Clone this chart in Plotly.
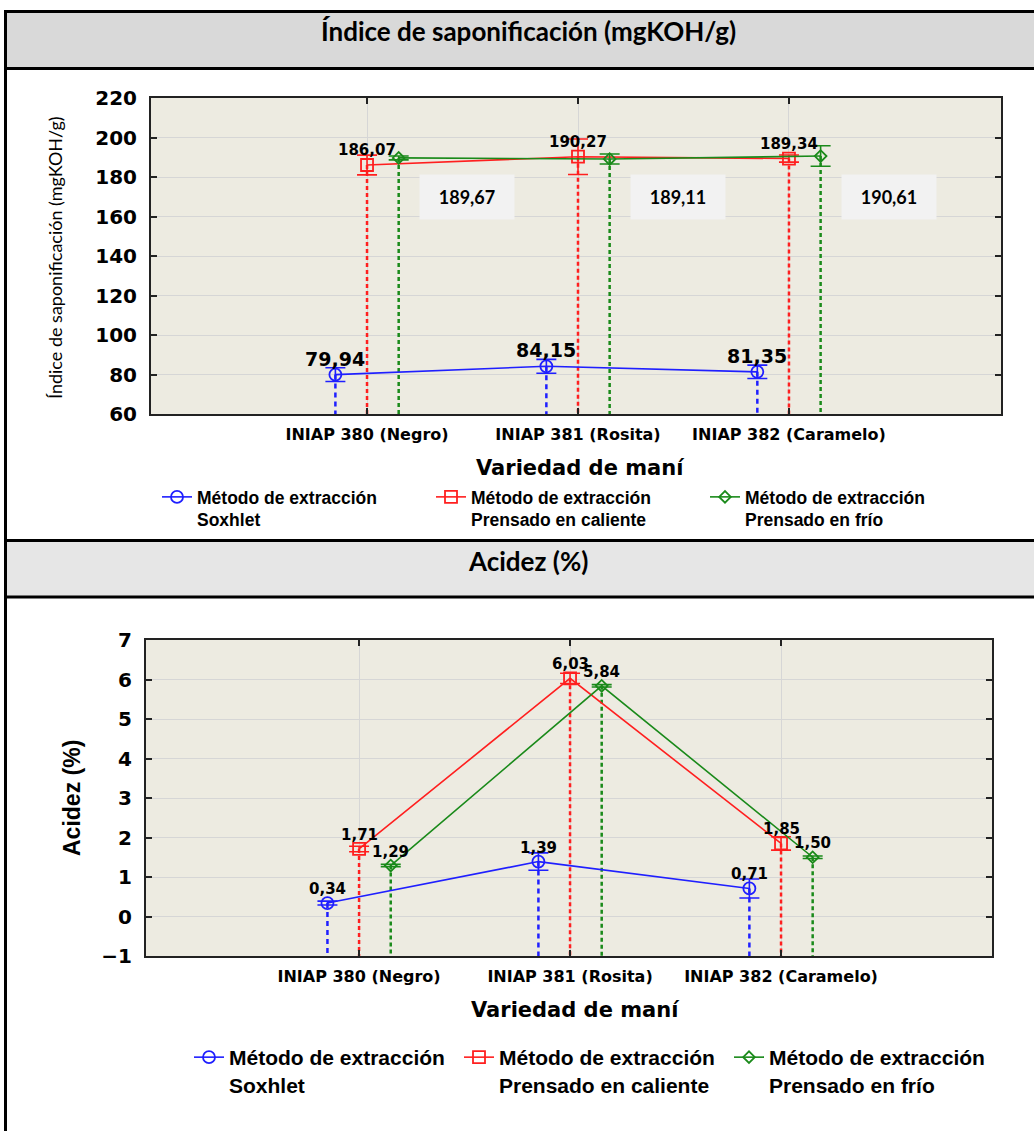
import plotly.graph_objects as go

# ---------------- data ----------------
categories = ["INIAP 380 (Negro)", "INIAP 381 (Rosita)", "INIAP 382 (Caramelo)"]
series_names = ["Método de extracción<br>Soxhlet",
                "Método de extracción<br>Prensado en caliente",
                "Método de extracción<br>Prensado en frío"]

sap_soxhlet = [79.94, 84.15, 81.35]
sap_caliente = [186.07, 190.27, 189.34]
sap_frio = [189.67, 189.11, 190.61]
sap_soxhlet_err = [3.5, 3.5, 3.4]
sap_caliente_err = [5.0, 9.0, 1.8]
sap_frio_err = [1.0, 2.5, 5.2]

acid_soxhlet = [0.34, 1.39, 0.71]
acid_caliente = [1.71, 6.03, 1.85]
acid_frio = [1.29, 5.84, 1.50]
acid_soxhlet_err = [0.05, 0.22, 0.24]
acid_caliente_err = [0.07, 0.13, 0.17]
acid_frio_err = [0.03, 0.03, 0.03]

sap_ticks = [60, 80, 100, 120, 140, 160, 180, 200, 220]
acid_ticks = [-1, 0, 1, 2, 3, 4, 5, 6, 7]

# ---------------- style ----------------
W, H = 1034, 1131
COLORS = ["#1f1fff", "#ff1f1f", "#1a8a1a"]
SYMBOLS = ["circle-open", "square-open", "diamond-open"]
MSIZE = [12, 12, 9]
OFFS = [-0.15, 0.0, 0.15]
DROP_DASH = ["5px,4px", "4px,3px", "4px,3px"]
DJ = "DejaVu Sans"
LATO = "Lato"
ARIAL = "Liberation Sans, Arial"
PLOT_BG = "#edebe1"
GRID = "#d6d6d6"


def fx(p):
    return p / W


def fy(p):
    return 1 - p / H


def fmt(v):
    return f"{v:.2f}".replace(".", ",")


fig = go.Figure()


def add_chart(xa, ya, legend, series, errs, ymin):
    for i, (vals, err) in enumerate(zip(series, errs)):
        xs = [k + OFFS[i] for k in range(len(categories))]
        dx, dy = [], []
        for x, v in zip(xs, vals):
            dx += [x, x, None]
            dy += [v, ymin, None]
        fig.add_trace(go.Scatter(
            x=dx, y=dy, mode="lines", xaxis=xa, yaxis=ya,
            line=dict(color=COLORS[i], width=2.5, dash=DROP_DASH[i]),
            showlegend=False, hoverinfo="skip"))
    for i, (vals, err) in enumerate(zip(series, errs)):
        xs = [k + OFFS[i] for k in range(len(categories))]
        fig.add_trace(go.Scatter(
            x=xs, y=vals, mode="lines+markers", xaxis=xa, yaxis=ya,
            name=series_names[i], legend=legend,
            line=dict(color=COLORS[i], width=1.6),
            marker=dict(symbol=SYMBOLS[i], size=MSIZE[i], color=COLORS[i],
                        line=dict(width=1.8, color=COLORS[i])),
            error_y=dict(type="data", array=err, visible=True,
                         color=COLORS[i], thickness=1.6, width=10)))


add_chart("x", "y", "legend",
          [sap_soxhlet, sap_caliente, sap_frio],
          [sap_soxhlet_err, sap_caliente_err, sap_frio_err], sap_ticks[0])
add_chart("x2", "y2", "legend2",
          [acid_soxhlet, acid_caliente, acid_frio],
          [acid_soxhlet_err, acid_caliente_err, acid_frio_err], acid_ticks[0])

annotations = []

# value labels chart 1
for k, v in enumerate(sap_soxhlet):
    annotations.append(dict(x=k + OFFS[0], y=v, xref="x", yref="y", text=f"<b>{fmt(v)}</b>",
                            xanchor="center", yanchor="middle",
                            showarrow=False, yshift=16, font=dict(family=DJ, size=19, color="black")))
for k, v in enumerate(sap_caliente):
    annotations.append(dict(x=k + OFFS[1], y=v, xref="x", yref="y", text=f"<b>{fmt(v)}</b>",
                            xanchor="center", yanchor="middle",
                            showarrow=False, yshift=15, font=dict(family=DJ, size=15, color="black")))
for k, v in enumerate(sap_frio):
    annotations.append(dict(x=k + 0.475, y=170, xref="x", yref="y", text=f"<b>{fmt(v)}</b>",
                            xanchor="center", yanchor="middle",
                            showarrow=False, width=92, height=42, bgcolor="#f2f2f2",
                            font=dict(family=LATO, size=18, color="black")))

# value labels chart 2
for i, vals in enumerate([acid_soxhlet, acid_caliente, acid_frio]):
    for k, v in enumerate(vals):
        annotations.append(dict(x=k + OFFS[i], y=v, xref="x2", yref="y2", text=f"<b>{fmt(v)}</b>",
                                xanchor="center", yanchor="middle",
                                showarrow=False, yshift=14, font=dict(family=DJ, size=15, color="black")))


def paper_text(x, y, text, font, angle=0):
    annotations.append(dict(x=fx(x), y=fy(y), xref="paper", yref="paper", text=text,
                            xanchor="center", yanchor="middle", textangle=angle,
                            showarrow=False, font=font))


# header titles
paper_text(528, 31, "<b>Índice de saponificación (mgKOH/g)</b>", dict(family=LATO, size=26, color="black"))
paper_text(528, 561, "<b>Acidez (%)</b>", dict(family=LATO, size=26, color="black"))

# axis titles
paper_text(55, 258, "Índice de saponificación (mgKOH/g)", dict(family=LATO, size=18, color="black"), -90)
paper_text(72, 798, "<b>Acidez (%)</b>", dict(family=ARIAL, size=23, color="black"), -90)
paper_text(580, 468, "<b>Variedad de maní</b>", dict(family=DJ, size=21, color="black"))
paper_text(575, 1010, "<b>Variedad de maní</b>", dict(family=DJ, size=21, color="black"))

# table frame
shapes = [
    dict(type="rect", xref="paper", yref="paper", x0=fx(5), x1=fx(1040), y0=fy(68), y1=fy(12),
         fillcolor="#d9d9d9", line=dict(width=0), layer="below"),
    dict(type="rect", xref="paper", yref="paper", x0=fx(5), x1=fx(1040), y0=fy(597), y1=fy(541),
         fillcolor="#e6e6e6", line=dict(width=0), layer="below"),
]
for yy in [11.5, 68.5, 540.5, 597]:
    shapes.append(dict(type="line", xref="paper", yref="paper", x0=fx(4), x1=fx(1040), y0=fy(yy), y1=fy(yy),
                       line=dict(color="black", width=3)))
shapes.append(dict(type="line", xref="paper", yref="paper", x0=fx(5.5), x1=fx(5.5), y0=fy(10), y1=fy(1135),
                   line=dict(color="black", width=3)))


def xaxis_cfg(domain, rng, tsize):
    return dict(domain=domain, range=rng, tickvals=list(range(len(categories))), ticktext=categories,
                tickfont=dict(family=DJ, size=tsize, color="black", weight="bold"),
                showgrid=True, gridcolor=GRID, gridwidth=1, zeroline=False,
                showline=True, linecolor="#222", linewidth=2, mirror="ticks",
                ticks="inside", ticklen=6, tickwidth=2, tickcolor="#222", fixedrange=True,
                ticklabelstandoff=5, automargin=False)


def yaxis_cfg(domain, ticks, anchor):
    return dict(domain=domain, range=[ticks[0], ticks[-1]], tickvals=ticks, anchor=anchor,
                tickfont=dict(family=DJ, size=20, color="black", weight="bold"),
                showgrid=True, gridcolor=GRID, gridwidth=1, zeroline=False,
                showline=True, linecolor="#222", linewidth=2, mirror="ticks",
                ticks="inside", ticklen=6, tickwidth=2, tickcolor="#222",
                ticklabelstandoff=8, fixedrange=True, automargin=False)


fig.update_layout(
    width=W, height=H, margin=dict(l=0, r=0, t=0, b=0, autoexpand=False),
    paper_bgcolor="white", plot_bgcolor=PLOT_BG,
    xaxis=xaxis_cfg([fx(151), fx(1001)], [-1.024, 3.005], 16),
    yaxis=yaxis_cfg([fy(414), fy(98)], sap_ticks, "x"),
    xaxis2=dict(xaxis_cfg([fx(146), fx(992)], [-1.01, 3.0], 16), anchor="y2"),
    yaxis2=yaxis_cfg([fy(956), fy(640)], acid_ticks, "x2"),
    legend=dict(orientation="h", x=fx(157), y=fy(479), xanchor="left", yanchor="top",
                entrywidth=229, entrywidthmode="pixels", valign="top", bgcolor="rgba(0,0,0,0)",
                font=dict(family=ARIAL, size=17.5, color="black", weight="bold"), tracegroupgap=0),
    legend2=dict(orientation="h", x=fx(189), y=fy(1037), xanchor="left", yanchor="top",
                 entrywidth=225, entrywidthmode="pixels", valign="top", bgcolor="rgba(0,0,0,0)",
                 font=dict(family=ARIAL, size=21, color="black", weight="bold"), tracegroupgap=0),
    annotations=annotations, shapes=shapes, showlegend=True,
)

fig.write_html("out.html")
